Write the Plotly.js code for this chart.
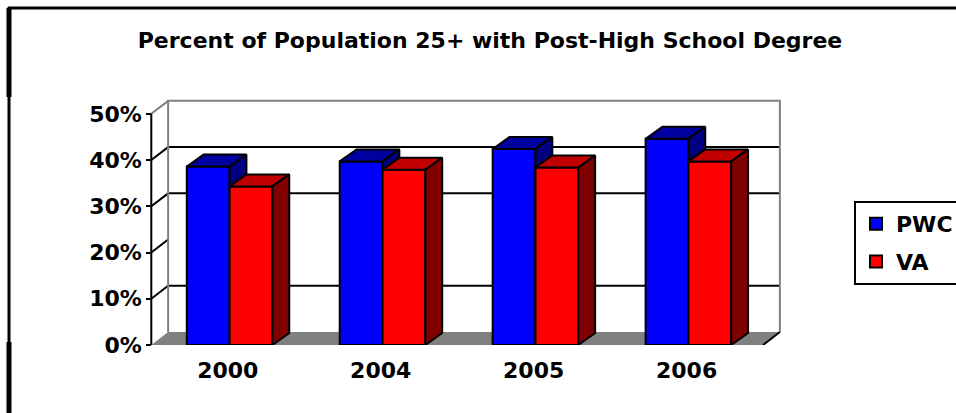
<!DOCTYPE html>
<html>
<head>
<meta charset="utf-8">
<script src="https://cdn.plot.ly/plotly-3.0.1.min.js"></script>
<style>
  html, body { margin: 0; padding: 0; background: #ffffff; }
  #chart { width: 956px; height: 413px; }
</style>
</head>
<body>
<div id="chart"></div>
<script>
// ---- data ----
const years = ['2000', '2004', '2005', '2006'];
const pwc = [0.386, 0.397, 0.424, 0.446];
const va = [0.343, 0.379, 0.384, 0.397];
const seriesNames = ['PWC', 'VA'];
const yTicks = [0, 0.1, 0.2, 0.3, 0.4, 0.5];
const yTickText = ['0%', '10%', '20%', '30%', '40%', '50%'];
const backGridValues = [0.1, 0.3, 0.4];

// ---- geometry / style ----
const W = 956, H = 413;
const M = { l: 136, r: 170, t: 93, b: 68, autoexpand: false };
const xRange = [-0.6, 3.65];
const yRange = [0, 0.545];
const xFront = [-0.5, 3.5];     // front edge of the floor
const yTop = 0.5;               // top of the value scale
const wallDx = 0.11, wallDy = 0.028;   // depth of the walls
const barW = 0.28;
const barOff = [-0.268, 0.012];
const barDx = 0.11, barDy = 0.026;     // depth of each column
const FONT = { family: '"DejaVu Sans", sans-serif', weight: 'bold', color: '#000000' };

const colors = {
  PWC: { front: '#0000FF', top: '#0000A0', side: '#000080' },
  VA:  { front: '#FF0000', top: '#C00000', side: '#800000' }
};

const plotW = W - M.l - M.r, plotH = H - M.t - M.b;
const paperX = px => (px - M.l) / plotW;
const paperY = py => (H - M.b - py) / plotH;

// ---- column faces built from the data ----
function topFaces(vals, off) {
  const xs = [], ys = [];
  vals.forEach((h, i) => {
    const L = i + off;
    xs.push(L, L + barW, L + barW + barDx, L + barDx, L, null);
    ys.push(h, h, h + barDy, h + barDy, h, null);
  });
  return { xs, ys };
}
function sideFaces(vals, off, lower) {
  const xs = [], ys = [];
  vals.forEach((h, i) => {
    const R = i + off + barW;
    const b = lower ? lower[i] : 0;
    if (b >= h) return;
    xs.push(R, R + barDx, R + barDx, R, R, null);
    ys.push(b, b + barDy, h + barDy, h, b, null);
  });
  return { xs, ys };
}
function face(poly, fill) {
  return {
    type: 'scatter', mode: 'lines', x: poly.xs, y: poly.ys,
    fill: 'toself', fillcolor: fill,
    line: { color: '#000000', width: 2 },
    showlegend: false, hoverinfo: 'skip', connectgaps: false
  };
}

const xIdx = years.map((_, i) => i);
const traces = [
  {
    type: 'bar', name: seriesNames[0], legendgroup: 'p', x: xIdx, y: pwc,
    width: barW, offset: barOff[0],
    marker: { color: colors.PWC.front, line: { color: '#000000', width: 2 } },
    hoverinfo: 'skip'
  },
  {
    type: 'bar', name: seriesNames[1], legendgroup: 'v', x: xIdx, y: va,
    width: barW, offset: barOff[1],
    marker: { color: colors.VA.front, line: { color: '#000000', width: 2 } },
    hoverinfo: 'skip'
  },
  face(topFaces(pwc, barOff[0]), colors.PWC.top),
  face(sideFaces(pwc, barOff[0], va), colors.PWC.side),
  face(topFaces(va, barOff[1]), colors.VA.top),
  face(sideFaces(va, barOff[1]), colors.VA.side)
];

// ---- walls, floor and frame ----
const shapes = [];
const gray = '#808080';
// floor
shapes.push({
  type: 'path', xref: 'x', yref: 'y', layer: 'below',
  path: `M${xFront[0]},0 L${xFront[1]},0 L${xFront[1] + wallDx},${wallDy} L${xFront[0] + wallDx},${wallDy} Z`,
  fillcolor: gray, line: { width: 0 }
});
// back wall gridlines
backGridValues.forEach(v => shapes.push({
  type: 'line', xref: 'x', yref: 'y', layer: 'below',
  x0: xFront[0] + wallDx, x1: xFront[1] + wallDx, y0: v + wallDy, y1: v + wallDy,
  line: { color: '#000000', width: 2 }
}));
// side wall tick lines
yTicks.slice(1).forEach(v => shapes.push({
  type: 'line', xref: 'x', yref: 'y', layer: 'below',
  x0: xFront[0], x1: xFront[0] + wallDx, y0: v, y1: v + wallDy,
  line: { color: v === yTop ? gray : '#000000', width: 2 }
}));
// back wall outline
shapes.push({
  type: 'path', xref: 'x', yref: 'y', layer: 'below',
  path: `M${xFront[0] + wallDx},${wallDy} L${xFront[0] + wallDx},${yTop + wallDy} L${xFront[1] + wallDx},${yTop + wallDy} L${xFront[1] + wallDx},${wallDy}`,
  line: { color: gray, width: 2 }
});
// right edge of the floor
shapes.push({
  type: 'line', xref: 'x', yref: 'y', layer: 'below',
  x0: xFront[1], x1: xFront[1] + wallDx, y0: 0, y1: wallDy,
  line: { color: '#000000', width: 2 }
});
// front value axis line
shapes.push({
  type: 'line', xref: 'x', yref: 'y', layer: 'above',
  x0: xFront[0], x1: xFront[0], y0: 0, y1: yTop,
  line: { color: '#000000', width: 2 }
});
// outer frame
shapes.push({ type: 'line', xref: 'paper', yref: 'paper', x0: paperX(8), x1: paperX(960), y0: paperY(8), y1: paperY(8), line: { color: '#000000', width: 3 } });
shapes.push({ type: 'line', xref: 'paper', yref: 'paper', x0: paperX(9), x1: paperX(9), y0: paperY(7), y1: paperY(420), line: { color: '#000000', width: 3 } });
shapes.push({ type: 'line', xref: 'paper', yref: 'paper', x0: paperX(9), x1: paperX(9), y0: paperY(8), y1: paperY(97), line: { color: '#000000', width: 5 } });
shapes.push({ type: 'line', xref: 'paper', yref: 'paper', x0: paperX(9), x1: paperX(9), y0: paperY(342), y1: paperY(420), line: { color: '#000000', width: 5 } });

const layout = {
  width: W, height: H,
  margin: M,
  paper_bgcolor: '#ffffff', plot_bgcolor: 'rgba(0,0,0,0)',
  barmode: 'overlay',
  font: Object.assign({ size: 22 }, FONT),
  title: {
    text: 'Percent of Population 25+ with Post-High School Degree',
    font: Object.assign({ size: 22 }, FONT),
    xref: 'container', x: 490 / W, xanchor: 'center',
    yref: 'container', y: 1 - 40 / H, yanchor: 'middle'
  },
  xaxis: {
    range: xRange, tickmode: 'array', tickvals: xIdx, ticktext: years,
    ticks: 'outside', ticklen: 6, tickcolor: 'rgba(0,0,0,0)',
    showgrid: false, zeroline: false, showline: false, automargin: false,
    tickfont: Object.assign({ size: 22 }, FONT), fixedrange: true
  },
  xaxis2: {
    overlaying: 'x', anchor: 'y', side: 'bottom', range: xRange,
    tickmode: 'array', tickvals: [-0.5, 0.5, 1.5, 2.5, 3.5],
    ticks: 'outside', ticklen: 4, tickwidth: 3, tickcolor: '#000000',
    showticklabels: false, showgrid: false, zeroline: false, showline: false
  },
  yaxis: {
    range: yRange, anchor: 'free', position: (xFront[0] - xRange[0]) / (xRange[1] - xRange[0]),
    tickmode: 'array', tickvals: yTicks, ticktext: yTickText,
    ticks: 'outside', ticklen: 5, tickwidth: 2, tickcolor: '#000000',
    showgrid: false, zeroline: false, showline: false, automargin: false,
    tickfont: Object.assign({ size: 22 }, FONT), fixedrange: true
  },
  legend: {
    x: paperX(854), xanchor: 'left', y: paperY(201), yanchor: 'top',
    bordercolor: '#000000', borderwidth: 2, bgcolor: '#ffffff',
    font: Object.assign({ size: 22 }, FONT),
    traceorder: 'grouped', tracegroupgap: 6
  },
  shapes: shapes,
  showlegend: true
};

Plotly.newPlot('chart', traces, layout, { staticPlot: true, displayModeBar: false });
</script>
</body>
</html>
